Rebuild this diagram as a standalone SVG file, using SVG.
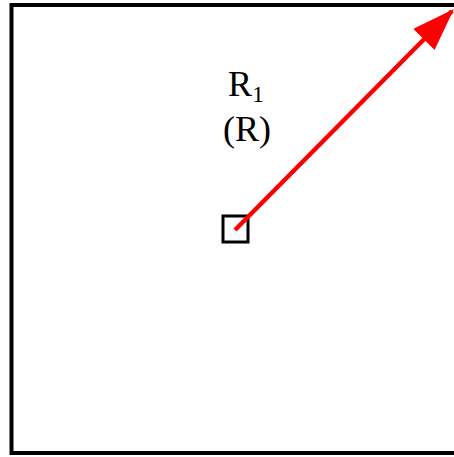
<svg xmlns="http://www.w3.org/2000/svg" width="454" height="457" viewBox="0 0 454 457">
<style>
.frame{fill:none;stroke:#000;stroke-width:4}
.lbl{font-family:"Liberation Serif",serif;font-size:36px;fill:#000}
</style>
<defs>
<marker id="ah" markerUnits="userSpaceOnUse" markerWidth="43" markerHeight="30" refX="40" refY="15" orient="auto" viewBox="0 0 43 30">
<path d="M0,0 L43,15 L0,30 Z" fill="#f00"/>
</marker>
</defs>
<rect width="454" height="457" fill="#fff"/>
<g id="region">
<polyline class="frame" points="460,5 11.5,5 11.5,453 460,453"/>
<text class="lbl" x="246" y="96" text-anchor="middle">R<tspan font-size="24" dy="6">1</tspan></text>
<text class="lbl" x="247" y="141" text-anchor="middle">(R)</text>
</g>
<g id="point">
<rect x="223" y="216" width="25" height="26" fill="none" stroke="#000" stroke-width="3"/>
</g>
<g id="connectors">
<line x1="235" y1="230" x2="452" y2="11" stroke="#f00" stroke-width="4.5" marker-end="url(#ah)"/>
</g>
</svg>
